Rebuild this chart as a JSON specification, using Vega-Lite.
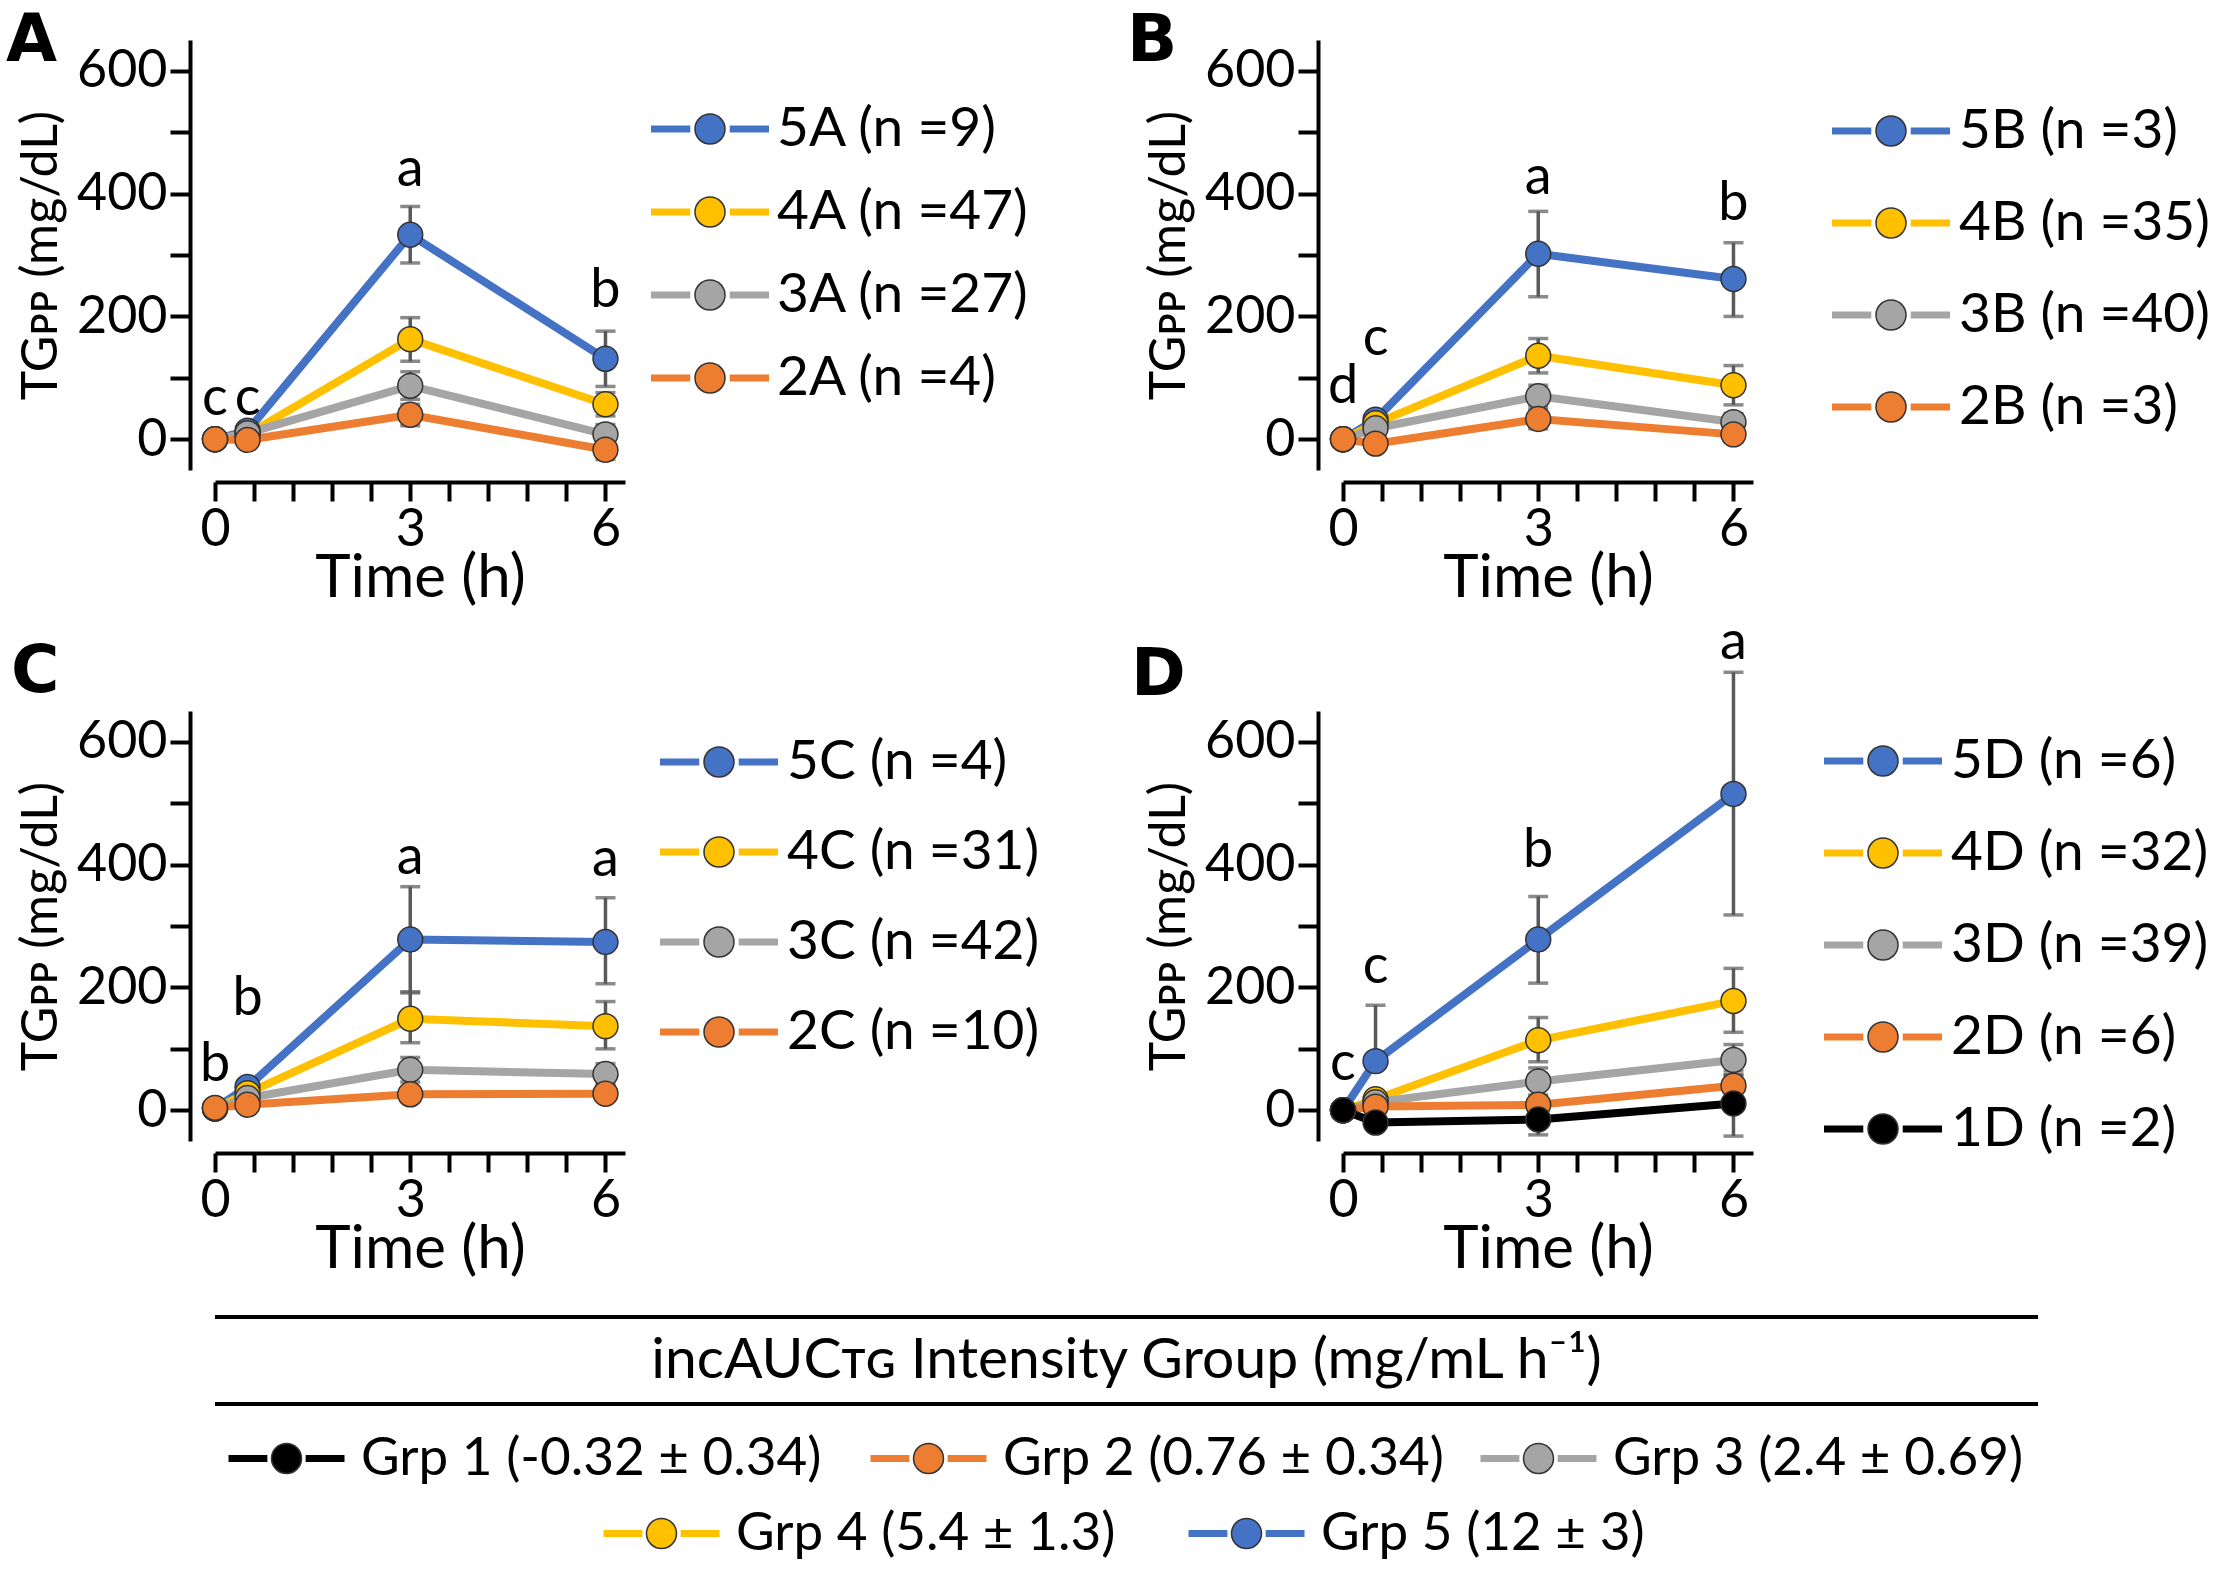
{
  "$schema": "https://vega.github.io/schema/vega-lite/v6.json",
  "padding": {"left": 6, "top": 8, "right": 0, "bottom": 0},
  "background": "white",
  "config": {
    "view": {"stroke": null},
    "font": "Lato",
    "axis": {"domainColor": "black", "tickColor": "black", "domainWidth": 4, "tickWidth": 4, "labelFont": "Lato", "labelFontSize": 52, "labelColor": "black", "titleFont": "Lato", "titleFontSize": 60, "titleFontWeight": "normal", "titleColor": "black", "grid": false},
    "title": {"font": "DejaVu Sans", "fontWeight": "bold", "fontSize": 66, "anchor": "start", "frame": "group", "baseline": "alphabetic", "color": "black"},
    "legend": {"labelFont": "Lato", "labelFontSize": 55, "labelColor": "black", "padding": 0, "orient": "none", "labelLimit": 2000}
  },
  "datasets": {
    "pts": [
      {"p":"A","g":"5A (n =9)","t":0,"y":0},
      {"p":"A","g":"5A (n =9)","t":0.5,"y":14},
      {"p":"A","g":"5A (n =9)","t":3,"y":333,"lo":287,"hi":379},
      {"p":"A","g":"5A (n =9)","t":6,"y":131,"lo":86,"hi":176},
      {"p":"A","g":"4A (n =47)","t":0,"y":0},
      {"p":"A","g":"4A (n =47)","t":0.5,"y":8},
      {"p":"A","g":"4A (n =47)","t":3,"y":163,"lo":127,"hi":198},
      {"p":"A","g":"4A (n =47)","t":6,"y":57,"lo":38,"hi":76},
      {"p":"A","g":"3A (n =27)","t":0,"y":0},
      {"p":"A","g":"3A (n =27)","t":0.5,"y":10},
      {"p":"A","g":"3A (n =27)","t":3,"y":87,"lo":65,"hi":110},
      {"p":"A","g":"3A (n =27)","t":6,"y":8,"lo":-8,"hi":24},
      {"p":"A","g":"2A (n =4)","t":0,"y":0},
      {"p":"A","g":"2A (n =4)","t":0.5,"y":-1},
      {"p":"A","g":"2A (n =4)","t":3,"y":40,"lo":22,"hi":57},
      {"p":"A","g":"2A (n =4)","t":6,"y":-17,"lo":-33,"hi":-2},
      {"p":"B","g":"5B (n =3)","t":0,"y":0},
      {"p":"B","g":"5B (n =3)","t":0.5,"y":32},
      {"p":"B","g":"5B (n =3)","t":3,"y":302,"lo":232,"hi":371},
      {"p":"B","g":"5B (n =3)","t":6,"y":261,"lo":200,"hi":320},
      {"p":"B","g":"4B (n =35)","t":0,"y":0},
      {"p":"B","g":"4B (n =35)","t":0.5,"y":26},
      {"p":"B","g":"4B (n =35)","t":3,"y":136,"lo":108,"hi":164},
      {"p":"B","g":"4B (n =35)","t":6,"y":88,"lo":56,"hi":120},
      {"p":"B","g":"3B (n =40)","t":0,"y":0},
      {"p":"B","g":"3B (n =40)","t":0.5,"y":18},
      {"p":"B","g":"3B (n =40)","t":3,"y":70,"lo":53,"hi":88},
      {"p":"B","g":"3B (n =40)","t":6,"y":28,"lo":14,"hi":42},
      {"p":"B","g":"2B (n =3)","t":0,"y":0},
      {"p":"B","g":"2B (n =3)","t":0.5,"y":-7},
      {"p":"B","g":"2B (n =3)","t":3,"y":33,"lo":17,"hi":48},
      {"p":"B","g":"2B (n =3)","t":6,"y":8,"lo":-4,"hi":20},
      {"p":"C","g":"5C (n =4)","t":0,"y":3},
      {"p":"C","g":"5C (n =4)","t":0.5,"y":38},
      {"p":"C","g":"5C (n =4)","t":3,"y":278,"lo":191,"hi":364},
      {"p":"C","g":"5C (n =4)","t":6,"y":274,"lo":206,"hi":346},
      {"p":"C","g":"4C (n =31)","t":0,"y":3},
      {"p":"C","g":"4C (n =31)","t":0.5,"y":28},
      {"p":"C","g":"4C (n =31)","t":3,"y":149,"lo":110,"hi":193},
      {"p":"C","g":"4C (n =31)","t":6,"y":137,"lo":100,"hi":177},
      {"p":"C","g":"3C (n =42)","t":0,"y":3},
      {"p":"C","g":"3C (n =42)","t":0.5,"y":20},
      {"p":"C","g":"3C (n =42)","t":3,"y":66,"lo":46,"hi":86},
      {"p":"C","g":"3C (n =42)","t":6,"y":59,"lo":42,"hi":76},
      {"p":"C","g":"2C (n =10)","t":0,"y":4},
      {"p":"C","g":"2C (n =10)","t":0.5,"y":9},
      {"p":"C","g":"2C (n =10)","t":3,"y":26,"lo":16,"hi":36},
      {"p":"C","g":"2C (n =10)","t":6,"y":27,"lo":16,"hi":39},
      {"p":"D","g":"5D (n =6)","t":0,"y":0},
      {"p":"D","g":"5D (n =6)","t":0.5,"y":80,"lo":80,"hi":171},
      {"p":"D","g":"5D (n =6)","t":3,"y":278,"lo":207,"hi":348},
      {"p":"D","g":"5D (n =6)","t":6,"y":515,"lo":318,"hi":713},
      {"p":"D","g":"4D (n =32)","t":0,"y":0},
      {"p":"D","g":"4D (n =32)","t":0.5,"y":18},
      {"p":"D","g":"4D (n =32)","t":3,"y":114,"lo":79,"hi":151},
      {"p":"D","g":"4D (n =32)","t":6,"y":178,"lo":127,"hi":231},
      {"p":"D","g":"3D (n =39)","t":0,"y":0},
      {"p":"D","g":"3D (n =39)","t":0.5,"y":13},
      {"p":"D","g":"3D (n =39)","t":3,"y":47,"lo":25,"hi":69},
      {"p":"D","g":"3D (n =39)","t":6,"y":82,"lo":57,"hi":107},
      {"p":"D","g":"2D (n =6)","t":0,"y":0},
      {"p":"D","g":"2D (n =6)","t":0.5,"y":6},
      {"p":"D","g":"2D (n =6)","t":3,"y":9,"lo":-7,"hi":22},
      {"p":"D","g":"2D (n =6)","t":6,"y":40,"lo":22,"hi":58},
      {"p":"D","g":"1D (n =2)","t":0,"y":0},
      {"p":"D","g":"1D (n =2)","t":0.5,"y":-20},
      {"p":"D","g":"1D (n =2)","t":3,"y":-15,"lo":-40,"hi":10},
      {"p":"D","g":"1D (n =2)","t":6,"y":11,"lo":-42,"hi":64}
    ],
    "let": [
      {"p":"A","t":0,"y":66,"s":"c"},
      {"p":"A","t":0.5,"y":66,"s":"c"},
      {"p":"A","t":3,"y":438,"s":"a"},
      {"p":"A","t":6,"y":242,"s":"b"},
      {"p":"B","t":0,"y":85,"s":"d"},
      {"p":"B","t":0.5,"y":163,"s":"c"},
      {"p":"B","t":3,"y":426,"s":"a"},
      {"p":"B","t":6,"y":383,"s":"b"},
      {"p":"C","t":0,"y":73,"s":"b"},
      {"p":"C","t":0.5,"y":181,"s":"b"},
      {"p":"C","t":3,"y":410,"s":"a"},
      {"p":"C","t":6,"y":407,"s":"a"},
      {"p":"D","t":0,"y":76,"s":"c"},
      {"p":"D","t":0.5,"y":233,"s":"c"},
      {"p":"D","t":3,"y":422,"s":"b"},
      {"p":"D","t":6,"y":760,"s":"a"}
    ],
    "hl": [{"k":"top"},{"k":"bottom"}],
    "bt": [{"k":"mid","txt":"incAUCᴛɢ Intensity Group (mg/mL h⁻¹)"}],
    "grp": [
      {"i":1,"g":"Grp 1 (-0.32 ± 0.34)"},
      {"i":2,"g":"Grp 2 (0.76 ± 0.34)"},
      {"i":3,"g":"Grp 3 (2.4 ± 0.69)"},
      {"i":4,"g":"Grp 4 (5.4 ± 1.3)"},
      {"i":5,"g":"Grp 5 (12 ± 3)"}
    ]
  },
  "vconcat": [
    {
      "hconcat": [
        {
          "width": 410, "height": 430,
          "title": {"text": "A", "dx": -209, "offset": -35},
          "encoding": {
            "x": {"field": "t", "type": "quantitative", "scale": {"domain": [0, 6.3], "nice": false, "zero": false}, "axis": {"values": [0,0.6,1.2,1.8,2.4,3,3.6,4.2,4.8,5.4,6], "tickCount": 30, "labelExpr": "datum.value == 0 || datum.value == 3 || datum.value == 6 ? format(datum.value, 'd') : ''", "title": "Time (h)", "offset": 12, "tickSize": 19, "labelPadding": 3, "titlePadding": -6, "labelFlush": false, "labelOverlap": false}},
            "y": {"field": "y", "type": "quantitative", "scale": {"domain": [-50, 650], "nice": false, "zero": false}, "axis": {"values": [0,100,200,300,400,500,600], "tickCount": 30, "labelExpr": "datum.value % 200 == 0 ? datum.label : ''", "title": "TGᴘᴘ (mg/dL)", "titleFontSize": 50, "offset": 25, "tickSize": 20, "labelPadding": 3, "titlePadding": 10, "labelFlush": false, "labelOverlap": false}}
          },
          "layer": [
            {"data": {"name": "pts"}, "transform": [{"filter": "datum.p == 'A' && isValid(datum.hi)"}],
             "mark": {"type": "errorbar", "color": "#595959", "thickness": 3.5, "ticks": {"size": 20}},
             "encoding": {
               "y": {"field": "lo", "type": "quantitative", "scale": {"domain": [-50, 650], "nice": false, "zero": false}, "axis": {"values": [0,100,200,300,400,500,600], "tickCount": 30, "labelExpr": "datum.value % 200 == 0 ? datum.label : ''", "title": "TGᴘᴘ (mg/dL)", "titleFontSize": 50, "offset": 25, "tickSize": 20, "labelPadding": 3, "titlePadding": 10, "labelFlush": false, "labelOverlap": false}},
               "y2": {"field": "hi"}
             }},
            {"data": {"name": "pts"}, "transform": [{"filter": "datum.p == 'A'"}],
             "mark": {"type": "line", "strokeWidth": 8},
             "encoding": {
               "stroke": {"field": "g", "type": "nominal", "sort": ["5A (n =9)","4A (n =47)","3A (n =27)","2A (n =4)"], "scale": {"range": ["#4472C4","#FFC000","#A5A5A5","#ED7D31"]},
                 "legend": {"title": null, "orient": "none", "legendX": 452, "legendY": 46, "symbolType": "M-1.4956,0H-0.5M0.5,0H1.4956", "symbolSize": 6225, "symbolStrokeWidth": 7, "labelOffset": 24, "rowPadding": 12, "labelOpacity": 0}}
             }},
            {"data": {"name": "pts"}, "transform": [{"filter": "datum.p == 'A'"}],
             "mark": {"type": "point", "filled": true, "size": 620, "stroke": "#333333", "strokeWidth": 1.5, "opacity": 1},
             "encoding": {
               "fill": {"field": "g", "type": "nominal", "scale": {"domain": ["5A (n =9)","4A (n =47)","3A (n =27)","2A (n =4)"], "range": ["#4472C4","#FFC000","#A5A5A5","#ED7D31"]},
                 "legend": {"title": null, "orient": "none", "legendX": 452, "legendY": 46, "symbolType": "M-1.4633,0M1.4633,0M0.3555,0A0.3555,0.3555,0,1,1,-0.3555,0A0.3555,0.3555,0,1,1,0.3555,0Z", "symbolSize": 7123, "symbolStrokeWidth": 1.5, "symbolStrokeColor": "#333333", "labelOffset": 24, "rowPadding": 12}}
             }},
            {"data": {"name": "let"}, "transform": [{"filter": "datum.p == 'A'"}],
             "mark": {"type": "text", "fontSize": 54, "font": "Lato", "color": "black", "baseline": "middle"},
             "encoding": {"text": {"field": "s"}}}
          ]
        },
        {
          "width": 410, "height": 430,
          "title": {"text": "B", "dx": -216, "offset": -35},
          "encoding": {
            "x": {"field": "t", "type": "quantitative", "scale": {"domain": [0, 6.3], "nice": false, "zero": false}, "axis": {"values": [0,0.6,1.2,1.8,2.4,3,3.6,4.2,4.8,5.4,6], "tickCount": 30, "labelExpr": "datum.value == 0 || datum.value == 3 || datum.value == 6 ? format(datum.value, 'd') : ''", "title": "Time (h)", "offset": 12, "tickSize": 19, "labelPadding": 3, "titlePadding": -6, "labelFlush": false, "labelOverlap": false}},
            "y": {"field": "y", "type": "quantitative", "scale": {"domain": [-50, 650], "nice": false, "zero": false}, "axis": {"values": [0,100,200,300,400,500,600], "tickCount": 30, "labelExpr": "datum.value % 200 == 0 ? datum.label : ''", "title": "TGᴘᴘ (mg/dL)", "titleFontSize": 50, "offset": 25, "tickSize": 20, "labelPadding": 3, "titlePadding": 10, "labelFlush": false, "labelOverlap": false}}
          },
          "layer": [
            {"data": {"name": "pts"}, "transform": [{"filter": "datum.p == 'B' && isValid(datum.hi)"}],
             "mark": {"type": "errorbar", "color": "#595959", "thickness": 3.5, "ticks": {"size": 20}},
             "encoding": {
               "y": {"field": "lo", "type": "quantitative", "scale": {"domain": [-50, 650], "nice": false, "zero": false}, "axis": {"values": [0,100,200,300,400,500,600], "tickCount": 30, "labelExpr": "datum.value % 200 == 0 ? datum.label : ''", "title": "TGᴘᴘ (mg/dL)", "titleFontSize": 50, "offset": 25, "tickSize": 20, "labelPadding": 3, "titlePadding": 10, "labelFlush": false, "labelOverlap": false}},
               "y2": {"field": "hi"}
             }},
            {"data": {"name": "pts"}, "transform": [{"filter": "datum.p == 'B'"}],
             "mark": {"type": "line", "strokeWidth": 8},
             "encoding": {
               "stroke": {"field": "g", "type": "nominal", "sort": ["5B (n =3)","4B (n =35)","3B (n =40)","2B (n =3)"], "scale": {"range": ["#4472C4","#FFC000","#A5A5A5","#ED7D31"]},
                 "legend": {"title": null, "orient": "none", "legendX": 505, "legendY": 48, "symbolType": "M-1.4956,0H-0.5M0.5,0H1.4956", "symbolSize": 6225, "symbolStrokeWidth": 7, "labelOffset": 25, "rowPadding": 21, "labelOpacity": 0}}
             }},
            {"data": {"name": "pts"}, "transform": [{"filter": "datum.p == 'B'"}],
             "mark": {"type": "point", "filled": true, "size": 620, "stroke": "#333333", "strokeWidth": 1.5, "opacity": 1},
             "encoding": {
               "fill": {"field": "g", "type": "nominal", "scale": {"domain": ["5B (n =3)","4B (n =35)","3B (n =40)","2B (n =3)"], "range": ["#4472C4","#FFC000","#A5A5A5","#ED7D31"]},
                 "legend": {"title": null, "orient": "none", "legendX": 505, "legendY": 48, "symbolType": "M-1.4633,0M1.4633,0M0.3555,0A0.3555,0.3555,0,1,1,-0.3555,0A0.3555,0.3555,0,1,1,0.3555,0Z", "symbolSize": 7123, "symbolStrokeWidth": 1.5, "symbolStrokeColor": "#333333", "labelOffset": 25, "rowPadding": 21}}
             }},
            {"data": {"name": "let"}, "transform": [{"filter": "datum.p == 'B'"}],
             "mark": {"type": "text", "fontSize": 54, "font": "Lato", "color": "black", "baseline": "middle"},
             "encoding": {"text": {"field": "s"}}}
          ]
        }
      ],
      "spacing": 718, "bounds": "flush",
      "resolve": {"scale": {"fill": "independent", "stroke": "independent"}}
    },
    {
      "hconcat": [
        {
          "width": 410, "height": 430,
          "title": {"text": "C", "dx": -204, "offset": 5},
          "encoding": {
            "x": {"field": "t", "type": "quantitative", "scale": {"domain": [0, 6.3], "nice": false, "zero": false}, "axis": {"values": [0,0.6,1.2,1.8,2.4,3,3.6,4.2,4.8,5.4,6], "tickCount": 30, "labelExpr": "datum.value == 0 || datum.value == 3 || datum.value == 6 ? format(datum.value, 'd') : ''", "title": "Time (h)", "offset": 12, "tickSize": 19, "labelPadding": 3, "titlePadding": -6, "labelFlush": false, "labelOverlap": false}},
            "y": {"field": "y", "type": "quantitative", "scale": {"domain": [-50, 650], "nice": false, "zero": false}, "axis": {"values": [0,100,200,300,400,500,600], "tickCount": 30, "labelExpr": "datum.value % 200 == 0 ? datum.label : ''", "title": "TGᴘᴘ (mg/dL)", "titleFontSize": 50, "offset": 25, "tickSize": 20, "labelPadding": 3, "titlePadding": 10, "labelFlush": false, "labelOverlap": false}}
          },
          "layer": [
            {"data": {"name": "pts"}, "transform": [{"filter": "datum.p == 'C' && isValid(datum.hi)"}],
             "mark": {"type": "errorbar", "color": "#595959", "thickness": 3.5, "ticks": {"size": 20}},
             "encoding": {
               "y": {"field": "lo", "type": "quantitative", "scale": {"domain": [-50, 650], "nice": false, "zero": false}, "axis": {"values": [0,100,200,300,400,500,600], "tickCount": 30, "labelExpr": "datum.value % 200 == 0 ? datum.label : ''", "title": "TGᴘᴘ (mg/dL)", "titleFontSize": 50, "offset": 25, "tickSize": 20, "labelPadding": 3, "titlePadding": 10, "labelFlush": false, "labelOverlap": false}},
               "y2": {"field": "hi"}
             }},
            {"data": {"name": "pts"}, "transform": [{"filter": "datum.p == 'C'"}],
             "mark": {"type": "line", "strokeWidth": 8},
             "encoding": {
               "stroke": {"field": "g", "type": "nominal", "sort": ["5C (n =4)","4C (n =31)","3C (n =42)","2C (n =10)"], "scale": {"range": ["#4472C4","#FFC000","#A5A5A5","#ED7D31"]},
                 "legend": {"title": null, "orient": "none", "legendX": 461, "legendY": 8, "symbolType": "M-1.4956,0H-0.5M0.5,0H1.4956", "symbolSize": 6225, "symbolStrokeWidth": 7, "labelOffset": 25, "rowPadding": 19, "labelOpacity": 0}}
             }},
            {"data": {"name": "pts"}, "transform": [{"filter": "datum.p == 'C'"}],
             "mark": {"type": "point", "filled": true, "size": 620, "stroke": "#333333", "strokeWidth": 1.5, "opacity": 1},
             "encoding": {
               "fill": {"field": "g", "type": "nominal", "scale": {"domain": ["5C (n =4)","4C (n =31)","3C (n =42)","2C (n =10)"], "range": ["#4472C4","#FFC000","#A5A5A5","#ED7D31"]},
                 "legend": {"title": null, "orient": "none", "legendX": 461, "legendY": 8, "symbolType": "M-1.4633,0M1.4633,0M0.3555,0A0.3555,0.3555,0,1,1,-0.3555,0A0.3555,0.3555,0,1,1,0.3555,0Z", "symbolSize": 7123, "symbolStrokeWidth": 1.5, "symbolStrokeColor": "#333333", "labelOffset": 25, "rowPadding": 19}}
             }},
            {"data": {"name": "let"}, "transform": [{"filter": "datum.p == 'C'"}],
             "mark": {"type": "text", "fontSize": 54, "font": "Lato", "color": "black", "baseline": "middle"},
             "encoding": {"text": {"field": "s"}}}
          ]
        },
        {
          "width": 410, "height": 430,
          "title": {"text": "D", "dx": -212, "offset": -93},
          "encoding": {
            "x": {"field": "t", "type": "quantitative", "scale": {"domain": [0, 6.3], "nice": false, "zero": false}, "axis": {"values": [0,0.6,1.2,1.8,2.4,3,3.6,4.2,4.8,5.4,6], "tickCount": 30, "labelExpr": "datum.value == 0 || datum.value == 3 || datum.value == 6 ? format(datum.value, 'd') : ''", "title": "Time (h)", "offset": 12, "tickSize": 19, "labelPadding": 3, "titlePadding": -6, "labelFlush": false, "labelOverlap": false}},
            "y": {"field": "y", "type": "quantitative", "scale": {"domain": [-50, 650], "nice": false, "zero": false}, "axis": {"values": [0,100,200,300,400,500,600], "tickCount": 30, "labelExpr": "datum.value % 200 == 0 ? datum.label : ''", "title": "TGᴘᴘ (mg/dL)", "titleFontSize": 50, "offset": 25, "tickSize": 20, "labelPadding": 3, "titlePadding": 10, "labelFlush": false, "labelOverlap": false}}
          },
          "layer": [
            {"data": {"name": "pts"}, "transform": [{"filter": "datum.p == 'D' && isValid(datum.hi)"}],
             "mark": {"type": "errorbar", "color": "#595959", "thickness": 3.5, "ticks": {"size": 20}},
             "encoding": {
               "y": {"field": "lo", "type": "quantitative", "scale": {"domain": [-50, 650], "nice": false, "zero": false}, "axis": {"values": [0,100,200,300,400,500,600], "tickCount": 30, "labelExpr": "datum.value % 200 == 0 ? datum.label : ''", "title": "TGᴘᴘ (mg/dL)", "titleFontSize": 50, "offset": 25, "tickSize": 20, "labelPadding": 3, "titlePadding": 10, "labelFlush": false, "labelOverlap": false}},
               "y2": {"field": "hi"}
             }},
            {"data": {"name": "pts"}, "transform": [{"filter": "datum.p == 'D'"}],
             "mark": {"type": "line", "strokeWidth": 8},
             "encoding": {
               "stroke": {"field": "g", "type": "nominal", "sort": ["5D (n =6)","4D (n =32)","3D (n =39)","2D (n =6)","1D (n =2)"], "scale": {"range": ["#4472C4","#FFC000","#A5A5A5","#ED7D31","#000000"]},
                 "legend": {"title": null, "orient": "none", "legendX": 497, "legendY": 7, "symbolType": "M-1.4956,0H-0.5M0.5,0H1.4956", "symbolSize": 6225, "symbolStrokeWidth": 7, "labelOffset": 25, "rowPadding": 21, "labelOpacity": 0}}
             }},
            {"data": {"name": "pts"}, "transform": [{"filter": "datum.p == 'D'"}],
             "mark": {"type": "point", "filled": true, "size": 620, "stroke": "#333333", "strokeWidth": 1.5, "opacity": 1},
             "encoding": {
               "fill": {"field": "g", "type": "nominal", "scale": {"domain": ["5D (n =6)","4D (n =32)","3D (n =39)","2D (n =6)","1D (n =2)"], "range": ["#4472C4","#FFC000","#A5A5A5","#ED7D31","#000000"]},
                 "legend": {"title": null, "orient": "none", "legendX": 497, "legendY": 7, "symbolType": "M-1.4633,0M1.4633,0M0.3555,0A0.3555,0.3555,0,1,1,-0.3555,0A0.3555,0.3555,0,1,1,0.3555,0Z", "symbolSize": 7123, "symbolStrokeWidth": 1.5, "symbolStrokeColor": "#333333", "labelOffset": 25, "rowPadding": 21}}
             }},
            {"data": {"name": "let"}, "transform": [{"filter": "datum.p == 'D'"}],
             "mark": {"type": "text", "fontSize": 54, "font": "Lato", "color": "black", "baseline": "middle"},
             "encoding": {"text": {"field": "s"}}}
          ]
        }
      ],
      "spacing": 718, "bounds": "flush",
      "resolve": {"scale": {"fill": "independent", "stroke": "independent"}}
    },
    {
      "width": 1823, "height": 22,
      "layer": [
        {"data": {"name": "hl"}, "mark": {"type": "rule", "strokeWidth": 4, "color": "black"},
         "encoding": {"y": {"field": "k", "type": "nominal", "scale": {"type": "point", "domain": ["top","mid","bottom"], "range": [-65, 22], "padding": 0}, "axis": null}}},
        {"data": {"name": "bt"}, "mark": {"type": "text", "fontSize": 57, "font": "Lato", "color": "black", "baseline": "middle", "align": "center"},
         "encoding": {"y": {"field": "k", "type": "nominal", "scale": {"type": "point", "domain": ["top","mid","bottom"], "range": [-65, 22], "padding": 0}, "axis": null}, "text": {"field": "txt"}}},

        {"data": {"name": "grp"}, "transform": [{"filter": "datum.i == 1"}], "mark": {"type": "rule", "strokeWidth": 8},
         "encoding": {"stroke": {"field": "g", "type": "nominal", "scale": {"range": ["#000000"]},
           "legend": {"title": null, "orient": "none", "legendX": 10, "legendY": 15, "symbolType": "M-1,0H-0.33M0.33,0H1", "symbolSize": 13456, "symbolStrokeWidth": 7, "labelOffset": 13, "labelFontSize": 53, "labelOpacity": 0}}}},
        {"data": {"name": "grp"}, "transform": [{"filter": "datum.i == 1"}], "mark": {"type": "point", "filled": true, "size": 0, "stroke": "#333333", "strokeWidth": 1.5, "opacity": 1},
         "encoding": {"fill": {"field": "g", "type": "nominal", "scale": {"domain": ["Grp 1 (-0.32 ± 0.34)"], "range": ["#000000"]},
           "legend": {"title": null, "orient": "none", "legendX": 10, "legendY": 15, "symbolType": "M-1,0M1,0M0.247,0A0.247,0.247,0,1,1,-0.247,0A0.247,0.247,0,1,1,0.247,0Z", "symbolSize": 14738, "symbolStrokeWidth": 1.5, "symbolStrokeColor": "#333333", "labelOffset": 13, "labelFontSize": 53}}}},

        {"data": {"name": "grp"}, "transform": [{"filter": "datum.i == 2"}], "mark": {"type": "rule", "strokeWidth": 8},
         "encoding": {"stroke": {"field": "g", "type": "nominal", "scale": {"range": ["#ED7D31"]},
           "legend": {"title": null, "orient": "none", "legendX": 652, "legendY": 15, "symbolType": "M-1,0H-0.33M0.33,0H1", "symbolSize": 13456, "symbolStrokeWidth": 7, "labelOffset": 13, "labelFontSize": 53, "labelOpacity": 0}}}},
        {"data": {"name": "grp"}, "transform": [{"filter": "datum.i == 2"}], "mark": {"type": "point", "filled": true, "size": 0, "stroke": "#333333", "strokeWidth": 1.5, "opacity": 1},
         "encoding": {"fill": {"field": "g", "type": "nominal", "scale": {"domain": ["Grp 2 (0.76 ± 0.34)"], "range": ["#ED7D31"]},
           "legend": {"title": null, "orient": "none", "legendX": 652, "legendY": 15, "symbolType": "M-1,0M1,0M0.247,0A0.247,0.247,0,1,1,-0.247,0A0.247,0.247,0,1,1,0.247,0Z", "symbolSize": 14738, "symbolStrokeWidth": 1.5, "symbolStrokeColor": "#333333", "labelOffset": 13, "labelFontSize": 53}}}},

        {"data": {"name": "grp"}, "transform": [{"filter": "datum.i == 3"}], "mark": {"type": "rule", "strokeWidth": 8},
         "encoding": {"stroke": {"field": "g", "type": "nominal", "scale": {"range": ["#A5A5A5"]},
           "legend": {"title": null, "orient": "none", "legendX": 1262, "legendY": 15, "symbolType": "M-1,0H-0.33M0.33,0H1", "symbolSize": 13456, "symbolStrokeWidth": 7, "labelOffset": 13, "labelFontSize": 53, "labelOpacity": 0}}}},
        {"data": {"name": "grp"}, "transform": [{"filter": "datum.i == 3"}], "mark": {"type": "point", "filled": true, "size": 0, "stroke": "#333333", "strokeWidth": 1.5, "opacity": 1},
         "encoding": {"fill": {"field": "g", "type": "nominal", "scale": {"domain": ["Grp 3 (2.4 ± 0.69)"], "range": ["#A5A5A5"]},
           "legend": {"title": null, "orient": "none", "legendX": 1262, "legendY": 15, "symbolType": "M-1,0M1,0M0.247,0A0.247,0.247,0,1,1,-0.247,0A0.247,0.247,0,1,1,0.247,0Z", "symbolSize": 14738, "symbolStrokeWidth": 1.5, "symbolStrokeColor": "#333333", "labelOffset": 13, "labelFontSize": 53}}}},

        {"data": {"name": "grp"}, "transform": [{"filter": "datum.i == 4"}], "mark": {"type": "rule", "strokeWidth": 8},
         "encoding": {"stroke": {"field": "g", "type": "nominal", "scale": {"range": ["#FFC000"]},
           "legend": {"title": null, "orient": "none", "legendX": 385, "legendY": 90, "symbolType": "M-1,0H-0.33M0.33,0H1", "symbolSize": 13456, "symbolStrokeWidth": 7, "labelOffset": 13, "labelFontSize": 53, "labelOpacity": 0}}}},
        {"data": {"name": "grp"}, "transform": [{"filter": "datum.i == 4"}], "mark": {"type": "point", "filled": true, "size": 0, "stroke": "#333333", "strokeWidth": 1.5, "opacity": 1},
         "encoding": {"fill": {"field": "g", "type": "nominal", "scale": {"domain": ["Grp 4 (5.4 ± 1.3)"], "range": ["#FFC000"]},
           "legend": {"title": null, "orient": "none", "legendX": 385, "legendY": 90, "symbolType": "M-1,0M1,0M0.247,0A0.247,0.247,0,1,1,-0.247,0A0.247,0.247,0,1,1,0.247,0Z", "symbolSize": 14738, "symbolStrokeWidth": 1.5, "symbolStrokeColor": "#333333", "labelOffset": 13, "labelFontSize": 53}}}},

        {"data": {"name": "grp"}, "transform": [{"filter": "datum.i == 5"}], "mark": {"type": "rule", "strokeWidth": 8},
         "encoding": {"stroke": {"field": "g", "type": "nominal", "scale": {"range": ["#4472C4"]},
           "legend": {"title": null, "orient": "none", "legendX": 970, "legendY": 90, "symbolType": "M-1,0H-0.33M0.33,0H1", "symbolSize": 13456, "symbolStrokeWidth": 7, "labelOffset": 13, "labelFontSize": 53, "labelOpacity": 0}}}},
        {"data": {"name": "grp"}, "transform": [{"filter": "datum.i == 5"}], "mark": {"type": "point", "filled": true, "size": 0, "stroke": "#333333", "strokeWidth": 1.5, "opacity": 1},
         "encoding": {"fill": {"field": "g", "type": "nominal", "scale": {"domain": ["Grp 5 (12 ± 3)"], "range": ["#4472C4"]},
           "legend": {"title": null, "orient": "none", "legendX": 970, "legendY": 90, "symbolType": "M-1,0M1,0M0.247,0A0.247,0.247,0,1,1,-0.247,0A0.247,0.247,0,1,1,0.247,0Z", "symbolSize": 14738, "symbolStrokeWidth": 1.5, "symbolStrokeColor": "#333333", "labelOffset": 13, "labelFontSize": 53}}}}
      ],
      "resolve": {"scale": {"fill": "independent", "stroke": "independent"}}
    }
  ],
  "spacing": 671,
  "bounds": "flush",
  "resolve": {"scale": {"fill": "independent", "stroke": "independent"}}
}
